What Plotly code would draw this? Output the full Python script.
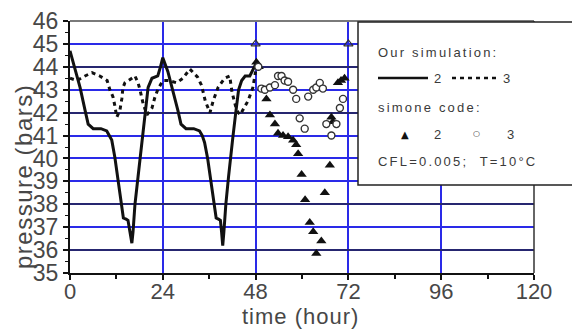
import plotly.graph_objects as go

# ---------------- data ----------------
# Our simulation, node 2 (solid line)
sim2_t = [0, 1.3, 2.6, 3.9, 4.7, 6.0, 8.0, 9.5, 10.2, 10.8, 11.6, 12.5, 13.4, 13.8, 14.5, 15.0,
          15.5, 16.0, 16.3, 16.8, 17.6, 18.1, 18.6, 19.4, 20.2, 21.2, 22.7, 23.4, 24.0,
          25.3, 26.6, 27.9, 28.7, 30.0, 32.0, 33.5, 34.2, 34.8, 35.6, 36.5, 37.3, 37.8, 38.4,
          38.9, 39.2, 39.5, 39.8, 40.3, 41.0, 41.6, 42.1, 42.8, 43.6, 44.4, 45.3, 46.5, 47.3, 48.0]
sim2_p = [44.7, 43.9, 43.1, 42.1, 41.5, 41.3, 41.3, 41.2, 41.0, 40.8, 40.05, 39.0, 38.0, 37.4, 37.35, 37.3,
          36.8, 36.3, 36.8, 38.0, 39.2, 39.9, 40.8, 41.8, 43.1, 43.5, 43.6, 44.0, 44.4,
          43.8, 43.0, 42.1, 41.5, 41.3, 41.3, 41.2, 41.0, 40.7, 40.0, 39.0, 38.0, 37.4, 37.35,
          37.3, 36.8, 36.2, 36.8, 38.0, 39.2, 40.0, 40.9, 41.9, 43.0, 43.4, 43.6, 43.6, 43.9, 44.1]

# Our simulation, node 3 (dashed line)
sim3_t = [0, 1.8, 3.9, 5.7, 7.7, 9.6, 10.3, 11.1, 11.6, 12.1, 12.9, 13.4, 13.7, 14.2, 16.0, 16.8,
          17.6, 18.1, 18.9, 19.9, 21.2, 22.0, 22.7, 24.0,
          25.5, 27.6, 29.2, 31.0, 33.0, 34.0, 35.0, 36.2, 37.0, 38.3, 40.0, 41.3, 41.9, 43.1,
          44.0, 46.0, 47.3, 48.0]
sim3_p = [43.5, 43.4, 43.6, 43.75, 43.6, 43.4, 43.0, 42.7, 42.3, 41.8, 42.1, 42.6, 43.1, 43.3, 43.5, 43.6,
          43.3, 43.0, 42.4, 41.9, 42.2, 42.7, 43.0, 43.4,
          43.4, 43.3, 43.5, 43.9, 43.55, 43.2, 42.5, 42.0, 42.5, 43.1, 43.5, 43.6, 42.9, 42.1,
          41.9, 42.5, 43.1, 43.8]

# simone code, node 2 (filled triangles)
simone2_t = [48.2, 48.8, 50.8, 51.7, 53.0, 53.8, 55.1, 56.4, 57.7, 58.5, 59.0, 59.9, 60.8, 62.0,
             62.9, 63.7, 65.0, 65.9, 67.2, 67.6, 68.0, 69.3, 70.1, 71.0]
simone2_p = [44.2, 44.0, 42.6, 41.9, 41.5, 41.1, 41.0, 40.95, 40.8, 40.6, 40.2, 39.3, 38.2, 37.2,
             36.8, 35.85, 36.4, 38.5, 39.7, 41.8, 41.6, 43.3, 43.4, 43.5]

# simone code, node 3 (open circles)
simone3_t = [48.7, 49.5, 50.4, 51.7, 53.0, 53.8, 54.7, 55.5, 56.4, 57.7, 58.5, 59.4, 60.7, 61.6,
             62.9, 63.7, 64.6, 65.4, 66.3, 67.6, 68.9, 69.8, 70.6]
simone3_p = [44.0, 43.05, 43.0, 43.1, 43.2, 43.6, 43.6, 43.4, 43.35, 43.0, 42.6, 41.75, 41.3, 42.7,
             43.0, 43.1, 43.3, 43.05, 41.5, 41.0, 41.5, 42.2, 42.6]

# open reference marks on the 45 bar line
mark_t = [48, 72]
mark_p = [45, 45]

x_ticks = [0, 24, 48, 72, 96, 120]
y_ticks = list(range(35, 47))
dark_grid = [36, 38, 42, 44]

# ---------------- figure ----------------
W, H = 572, 329
ML, MR, MT, MB = 70, 38, 21, 56
PW, PH = W - ML - MR, H - MT - MB


def px(x):
    return (x - ML) / PW


def py(y):
    return (MT + PH - y) / PH


FONT = "Liberation Sans, Arial, sans-serif"
BLUE = "#2a2ae8"

fig = go.Figure()
fig.add_trace(go.Scatter(x=sim2_t, y=sim2_p, mode="lines",
                         line=dict(color="#111", width=3), showlegend=False))
fig.add_trace(go.Scatter(x=sim3_t, y=sim3_p, mode="lines",
                         line=dict(color="#111", width=3, dash="4px,4px"), showlegend=False))
fig.add_trace(go.Scatter(x=simone2_t, y=simone2_p, mode="markers",
                         marker=dict(symbol="triangle-up", size=9, color="#111"), showlegend=False))
fig.add_trace(go.Scatter(x=simone3_t, y=simone3_p, mode="markers",
                         marker=dict(symbol="circle", size=7, color="white",
                                     line=dict(color="#333", width=1.4)), showlegend=False))
fig.add_trace(go.Scatter(x=mark_t, y=mark_p, mode="markers",
                         marker=dict(symbol="triangle-up-open", size=8, color="#333",
                                     line=dict(width=1.2)), showlegend=False))
# helper trace so that the overlay axis (darker grid lines) exists
fig.add_trace(go.Scatter(x=[None], y=[None], yaxis="y2", showlegend=False, hoverinfo="skip"))

tickfont = dict(family=FONT, size=23, color="#474747")

fig.update_layout(
    width=W, height=H,
    margin=dict(l=ML, r=MR, t=MT, b=MB),
    paper_bgcolor="white", plot_bgcolor="white",
    xaxis=dict(range=[0, 120], tickmode="array", tickvals=x_ticks,
               showgrid=True, gridcolor=BLUE, gridwidth=1.5, zeroline=False,
               showline=True, linecolor="#111", linewidth=2, mirror=False,
               ticks="outside", ticklen=5, tickwidth=1.5, tickcolor="#111",
               minor=dict(tickmode="linear", dtick=12, tick0=0, ticks="outside", ticklen=4,
                          tickcolor="#111", tickwidth=1.5, showgrid=False),
               tickfont=dict(family=FONT, size=22, color="#474747"),
               ticklabelstandoff=-7, automargin=False),
    yaxis=dict(range=[35, 46], tickmode="array", tickvals=y_ticks,
               showgrid=True, gridcolor=BLUE, gridwidth=2, zeroline=False,
               showline=True, linecolor="#111", linewidth=2, mirror=False,
               ticks="outside", ticklen=5, tickwidth=1.5, tickcolor="#111",
               minor=dict(tickmode="linear", dtick=0.5, tick0=35, ticks="outside", ticklen=3,
                          tickcolor="#111", tickwidth=1, showgrid=False),
               tickfont=tickfont, automargin=False),
    yaxis2=dict(range=[35, 46], overlaying="y", side="left", tickmode="array",
                tickvals=dark_grid, showticklabels=False, ticks="",
                showgrid=True, gridcolor="#262670", gridwidth=2,
                zeroline=False, showline=False, automargin=False),
    showlegend=False,
)

shapes = [
    # top frame (grey) and right frame
    dict(type="line", xref="paper", yref="paper", x0=0, x1=1, y0=1, y1=1,
         line=dict(color="#7a7a7a", width=2), layer="above"),
    dict(type="line", xref="paper", yref="paper", x0=1, x1=1, y0=0, y1=1,
         line=dict(color="#333", width=1.5), layer="above"),
    # legend box
    dict(type="rect", xref="paper", yref="paper", x0=px(358), x1=px(580), y0=py(185), y1=py(22),
         fillcolor="white", line=dict(color="#222", width=1.5), layer="above"),
    # legend line samples
    dict(type="line", xref="paper", yref="paper", x0=px(378), x1=px(428), y0=py(78), y1=py(78),
         line=dict(color="#111", width=2.5), layer="above"),
    dict(type="line", xref="paper", yref="paper", x0=px(452), x1=px(497), y0=py(78), y1=py(78),
         line=dict(color="#111", width=2.5, dash="4px,4px"), layer="above"),
]
fig.update_layout(shapes=shapes)

LS = "letter-spacing:2.2px"
lfont = dict(family=FONT, size=13, color="#3a3a3a")


def ann(text, x, y, xanchor="left", font=lfont, **kw):
    fig.add_annotation(text=text, x=px(x), y=py(y), xref="paper", yref="paper",
                       xanchor=xanchor, yanchor="middle", showarrow=False, font=font, **kw)


ann(f'<span style="{LS}">Our simulation:</span>', 376, 52)
ann("2", 432, 78)
ann("3", 501, 78)
ann(f'<span style="{LS}">simone code:</span>', 376, 107)
ann("▲", 405, 134, xanchor="center", font=dict(family="DejaVu Sans", size=10, color="#111"))
ann("2", 432, 134)
ann("○", 476, 133, xanchor="center", font=dict(family="DejaVu Sans", size=8, color="#333"))
ann("3", 505, 134)
ann(f'<span style="{LS}">CFL=0.005;  T=10°C</span>', 376, 161)

# axis titles
fig.add_annotation(text='<span style="letter-spacing:1.5px">pressure (bars)</span>',
                   x=px(23), y=py(177), xref="paper", yref="paper", textangle=-90,
                   xanchor="center", yanchor="middle", showarrow=False,
                   font=dict(family=FONT, size=24, color="#474747"))
fig.add_annotation(text='<span style="letter-spacing:1px">time (hour)</span>',
                   x=px(300), y=py(316), xref="paper", yref="paper",
                   xanchor="center", yanchor="middle", showarrow=False,
                   font=dict(family=FONT, size=22, color="#474747"))

fig.write_html("out.html")
